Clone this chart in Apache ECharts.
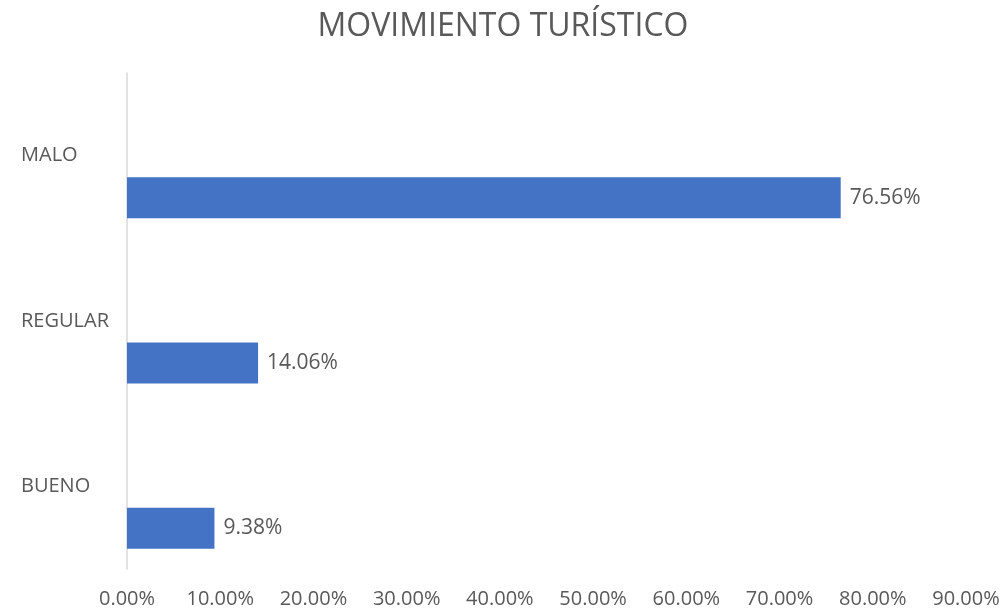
<!DOCTYPE html>
<html>
<head>
<meta charset="utf-8">
<script src="https://cdn.jsdelivr.net/npm/echarts@6/dist/echarts.min.js"></script>
<style>
html,body{margin:0;padding:0;background:#fff;}
#chart{width:1006px;height:609px;}
</style>
</head>
<body>
<div id="chart"></div>
<script>
const titleText = 'MOVIMIENTO TURÍSTICO';
const categories = ['BUENO', 'REGULAR', 'MALO'];
const values = [9.38, 14.06, 76.56];
const placeholder = ['-', '-', '-'];
const axisMin = 0, axisMax = 90, axisStep = 10;

const FONT = '"Open Sans", "Noto Sans", sans-serif';
const chart = echarts.init(document.getElementById('chart'));
chart.setOption({
  backgroundColor: '#ffffff',
  animation: false,
  title: {
    text: titleText,
    left: 'center',
    top: 6,
    textStyle: { color: '#595959', fontSize: 32, fontWeight: 'normal', fontFamily: FONT }
  },
  grid: { left: 127, right: 40, top: 73, bottom: 40, containLabel: false },
  xAxis: {
    type: 'value',
    min: axisMin, max: axisMax, interval: axisStep,
    axisLine: { show: false },
    axisTick: { show: false },
    splitLine: { show: false },
    axisLabel: {
      color: '#595959', fontSize: 20, fontFamily: FONT, margin: 20,
      formatter: v => v.toFixed(2) + '%'
    }
  },
  yAxis: {
    type: 'category',
    data: categories,
    axisLine: { show: true, lineStyle: { color: '#d9d9d9', width: 1.5 } },
    axisTick: { show: false },
    axisLabel: {
      color: '#595959', fontSize: 20, fontFamily: FONT, align: 'left', margin: 106,
      padding: [9, 0, 0, 0]
    }
  },
  series: [
    {
      type: 'bar', data: placeholder, barWidth: 41, barGap: '105%', silent: true
    },
    {
      type: 'bar', data: values, barWidth: 41, barGap: '105%',
      itemStyle: { color: '#4472C4' },
      label: {
        show: true, position: 'right', distance: 9,
        color: '#595959', fontSize: 21, fontFamily: FONT,
        padding: [3, 0, 0, 0],
        formatter: p => p.value.toFixed(2) + '%'
      }
    }
  ]
});
</script>
</body>
</html>
